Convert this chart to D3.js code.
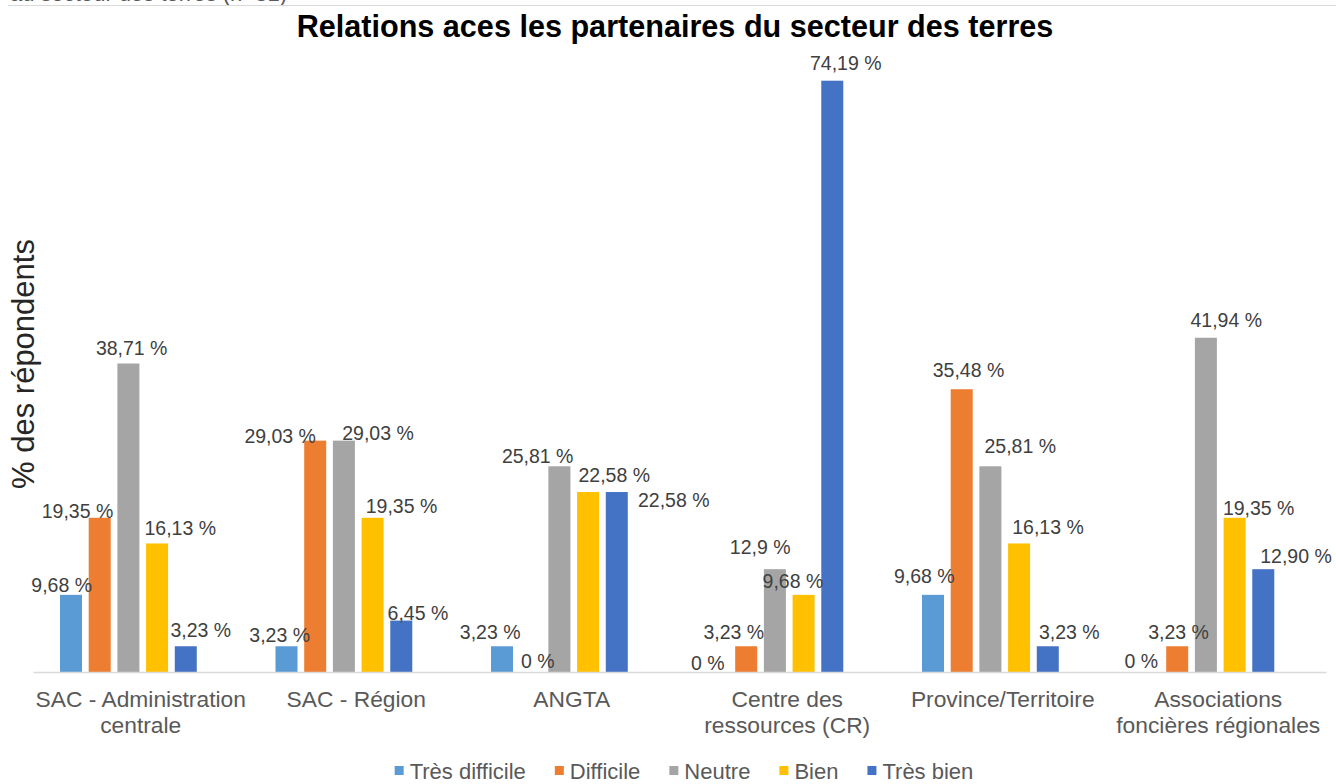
<!DOCTYPE html>
<html><head><meta charset="utf-8">
<script src="https://cdn.jsdelivr.net/npm/d3@7"></script>
<style>html,body{margin:0;padding:0;background:#fff;}svg{display:block;font-family:"Liberation Sans",Arial,sans-serif;}</style>
</head><body>
<svg id="chart" width="1336" height="784"></svg>
<script>
const categories = [
  ["SAC - Administration", "centrale"],
  ["SAC - Région"],
  ["ANGTA"],
  ["Centre des", "ressources (CR)"],
  ["Province/Territoire"],
  ["Associations", "foncières régionales"]
];
const seriesNames = ["Très difficile", "Difficile", "Neutre", "Bien", "Très bien"];
const seriesColors = ["#5B9BD5", "#ED7D31", "#A5A5A5", "#FFC000", "#4472C4"];

const tresDifficile = [9.68, 3.23, 3.23, 0, 9.68, 0];
const difficile     = [19.35, 29.03, 0, 3.23, 35.48, 3.23];
const neutre        = [38.71, 29.03, 25.81, 12.9, 25.81, 41.94];
const bien          = [16.13, 19.35, 22.58, 9.68, 16.13, 19.35];
const tresBien      = [3.23, 6.45, 22.58, 74.19, 3.23, 12.90];

const labelsTresDifficile = ["9,68 %", "3,23 %", "3,23 %", "0 %", "9,68 %", "0 %"];
const labelsDifficile     = ["19,35 %", "29,03 %", "0 %", "3,23 %", "35,48 %", "3,23 %"];
const labelsNeutre        = ["38,71 %", "29,03 %", "25,81 %", "12,9 %", "25,81 %", "41,94 %"];
const labelsBien          = ["16,13 %", "19,35 %", "22,58 %", "9,68 %", "16,13 %", "19,35 %"];
const labelsTresBien      = ["3,23 %", "6,45 %", "22,58 %", "74,19 %", "3,23 %", "12,90 %"];

// manual nudges of the data labels relative to the bar top centre (as moved in the original)
const nudgeTresDifficile = [[-9.3,-3.2],[-6.8,-4.6],[-11.8,-7],[-9.8,-2],[-8.7,-12.2],[-7.2,-3.7]];
const nudgeDifficile     = [[-22.2,0.5],[-35,2.7],[7,-3.7],[-12.4,-7],[6.8,-12.5],[1.3,-7]];
const nudgeNeutre        = [[3.3,-8.5],[34.1,-0.6],[-21.7,-3],[-14.7,-14.9],[29.9,-13.6],[20.4,-11]];
const nudgeBien          = [[23.2,-8.4],[28.9,-5.1],[26.2,-10.3],[-10.6,-6.6],[28.9,-9.1],[24.1,-2.8]];
const nudgeTresBien      = [[15,-9],[16.7,-0.6],[57,14.7],[13.5,-10.7],[21.5,-7],[32.7,-5.9]];

const seriesValues = [tresDifficile, difficile, neutre, bien, tresBien];
const seriesLabels = [labelsTresDifficile, labelsDifficile, labelsNeutre, labelsBien, labelsTresBien];
const seriesNudges = [nudgeTresDifficile, nudgeDifficile, nudgeNeutre, nudgeBien, nudgeTresBien];

const title = "Relations aces les partenaires du secteur des terres";
const yTitle = "% des répondents";
const clippedHeader = "au secteur des terres (n=31)";

const svg = d3.select("#chart");
svg.append("rect").attr("width", 1336).attr("height", 784).attr("fill", "#fff");

// clipped header text from the page above + separator line
svg.append("text").attr("x", 10).attr("y", 1).attr("font-size", 22).attr("fill", "#595959").text(clippedHeader);
svg.append("line").attr("x1", 8).attr("x2", 1336).attr("y1", 5.5).attr("y2", 5.5).attr("stroke", "#d9d9d9").attr("stroke-width", 1);

const plotLeft = 33, plotRight = 1326, baseY = 672;
const x0 = d3.scaleBand().domain(d3.range(categories.length)).range([plotLeft, plotRight]).padding(0);
const bw = x0.bandwidth();
const x1 = d3.scaleBand().domain(d3.range(seriesNames.length))
  .range([bw * 0.1253, bw * 0.7600]).paddingInner(0.233).paddingOuter(0);
const y = d3.scaleLinear().domain([0, 80]).range([baseY, baseY - 80 * 7.97]);

// title
svg.append("text").attr("x", 675).attr("y", 37).attr("text-anchor", "middle")
  .attr("font-size", 30.6).attr("font-weight", "bold").attr("fill", "#000").text(title);

// y title
svg.append("text").attr("transform", "translate(34,364) rotate(-90)").attr("text-anchor", "middle")
  .attr("font-size", 31).attr("fill", "#262626").text(yTitle);

// bars
const groups = svg.append("g");
seriesValues.forEach((vals, s) => {
  groups.append("g").selectAll("rect").data(vals).join("rect")
    .attr("x", (d, i) => x0(i) + x1(s))
    .attr("width", x1.bandwidth())
    .attr("y", d => y(d))
    .attr("height", d => y(0) - y(d))
    .attr("fill", seriesColors[s]);
});

// axis line
const xAxis = d3.axisBottom(x0).tickSize(0).tickFormat("");
const axG = svg.append("g").attr("transform", `translate(0,${baseY})`).call(xAxis);
axG.select(".domain").attr("stroke", "#d9d9d9").attr("stroke-width", 1.3);

// category labels
categories.forEach((lines, i) => {
  const t = svg.append("text").attr("text-anchor", "middle").attr("font-size", 22.8).attr("fill", "#595959");
  lines.forEach((ln, k) => {
    t.append("tspan").attr("x", x0(i) + bw / 2).attr("y", 707 + k * 26).text(ln);
  });
});

// data labels
seriesValues.forEach((vals, s) => {
  svg.append("g").selectAll("text").data(vals).join("text")
    .attr("x", (d, i) => x0(i) + x1(s) + x1.bandwidth() / 2 + seriesNudges[s][i][0])
    .attr("y", (d, i) => y(d) + seriesNudges[s][i][1])
    .attr("text-anchor", "middle").attr("font-size", 19.5).attr("fill", "#404040")
    .text((d, i) => seriesLabels[s][i]);
});

// legend
const legend = svg.append("g");
const items = legend.selectAll("g").data(seriesNames).join("g");
items.append("rect").attr("width", 9).attr("height", 9).attr("y", 766).attr("fill", (d, i) => seriesColors[i]);
items.append("text").attr("x", 15).attr("y", 778.5).attr("font-size", 22).attr("fill", "#595959").text(d => d);
let widths = [];
items.select("text").each(function () { widths.push(15 + this.getComputedTextLength()); });
const gap = 29;
const total = d3.sum(widths) + gap * (widths.length - 1);
let cx = 684 - total / 2;
items.attr("transform", (d, i) => { const tx = cx; cx += widths[i] + gap; return `translate(${tx},0)`; });
</script>
</body></html>
